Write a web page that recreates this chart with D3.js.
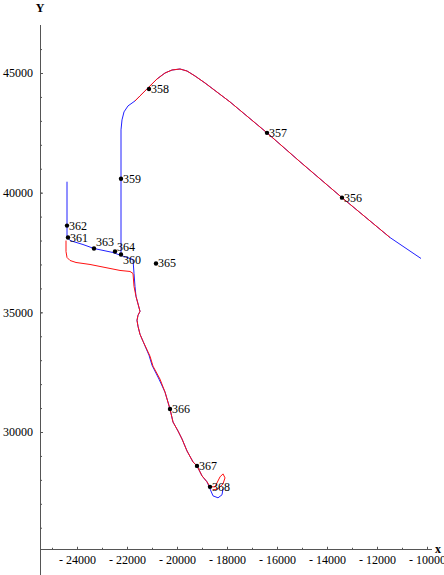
<!DOCTYPE html>
<html>
<head>
<meta charset="utf-8">
<script src="https://cdn.jsdelivr.net/npm/d3@7"></script>
<style>
  body { margin: 0; background: #fff; }
  svg { display: block; }
  text { font-family: "Liberation Serif", "DejaVu Serif", serif; fill: #000; }
</style>
</head>
<body>
<svg id="chart" width="444" height="575"></svg>
<script>
// red track, two pieces (x, y)
const redA = [
  [-11480, 38125], [-13400, 39792], [-15080, 41292], [-16400, 42500],
  [-17880, 43792], [-18880, 44583], [-19280, 44875], [-19600, 45083],
  [-19880, 45167], [-20200, 45125], [-20480, 45000], [-20800, 44750],
  [-21120, 44417], [-21480, 44042], [-21680, 43833]
]
const redB = [
  [-24440, 38000], [-24440, 37542], [-24400, 37292], [-24280, 37167],
  [-24040, 37083], [-23480, 37000], [-22880, 36875], [-22280, 36750],
  [-21880, 36708], [-21760, 36625], [-21720, 36083], [-21640, 35667],
  [-21480, 35042], [-21560, 34875], [-21600, 34667], [-21560, 34417],
  [-21480, 34083], [-21360, 33792], [-21080, 33167], [-20960, 32750],
  [-20680, 32208], [-20480, 31667], [-20280, 30958], [-20160, 30417],
  [-19960, 30042], [-19800, 29708], [-19600, 29208], [-19360, 28750],
  [-19200, 28583], [-19000, 28167], [-18800, 27917], [-18680, 27708],
  [-18480, 27708], [-18280, 28125], [-18160, 28250], [-18080, 28083],
  [-18160, 27833], [-18360, 27625], [-18560, 27583]
]

// blue track, two pieces
const blueA = [
  [-10240, 37250], [-11480, 38125], [-13400, 39792], [-15080, 41292],
  [-16400, 42500], [-17880, 43792], [-18880, 44583], [-19280, 44875],
  [-19600, 45083], [-19880, 45167], [-20200, 45125], [-20480, 45000],
  [-20800, 44750], [-21120, 44417], [-21480, 44042], [-21680, 43833],
  [-21960, 43625], [-22120, 43375], [-22200, 43042], [-22240, 42625],
  [-22240, 37417]
]
const blueB = [
  [-24400, 40458], [-24400, 38167], [-24280, 38000], [-23760, 37833],
  [-23320, 37667], [-22560, 37500], [-22240, 37375], [-21760, 37208],
  [-21720, 36625], [-21680, 36083], [-21640, 35667], [-21480, 35042],
  [-21560, 34875], [-21600, 34667], [-21560, 34417], [-21480, 34083],
  [-21360, 33792], [-21120, 33208], [-21000, 32792], [-20720, 32208],
  [-20480, 31667], [-20280, 30958], [-20160, 30417], [-19960, 30042],
  [-19800, 29708], [-19600, 29208], [-19360, 28750], [-19200, 28583],
  [-19000, 28167], [-18800, 27917], [-18680, 27625], [-18560, 27333],
  [-18360, 27250], [-18200, 27375], [-18160, 27625]
]

// labelled points
const pointIds = [356, 357, 358, 359, 360, 361, 362, 363, 364, 365, 366, 367, 368]
const pointX = [-13400, -16400, -21120, -22240, -22240, -24360, -24400,
                -23320, -22480, -20840, -20280, -19200, -18680]
const pointY = [39792, 42500, 44333, 40583, 37417, 38125, 38625,
                37667, 37542, 37042, 30958, 28583, 27708]

const xMajor = [-24000, -22000, -20000, -18000, -16000, -14000, -12000, -10000]
const yMajor = [30000, 35000, 40000, 45000]

const svg = d3.select('#chart')

const x = d3.scaleLinear().domain([-24000, -10000]).range([77, 427])
const y = d3.scaleLinear().domain([30000, 45000]).range([432, 73])

const axisX0 = -25480   // where the y axis sits
const axisY0 = 25080    // where the x axis sits

const line = d3.line()
    .x(d => x(d[0]))
    .y(d => y(d[1]))

// axes
const yAx = svg.append('g').attr('transform', `translate(${x(axisX0)},0)`)
yAx.call(d3.axisLeft(y).tickValues(d3.range(26000, 46001, 1000))
        .tickSize(-2).tickSizeOuter(0).tickFormat(''))
yAx.call(g => g.select('.domain').remove())
const yMaj = svg.append('g').attr('transform', `translate(${x(axisX0)},0)`)
yMaj.call(d3.axisLeft(y).tickValues(yMajor).tickSize(-3).tickSizeOuter(0)
        .tickPadding(7).tickFormat(d3.format('d')))
yMaj.call(g => g.select('.domain').remove())
yMaj.selectAll('text').style('font-size', '12px')

const xAx = svg.append('g').attr('transform', `translate(0,${y(axisY0)})`)
xAx.call(d3.axisBottom(x).tickValues(d3.range(-25000, -9999, 1000))
        .tickSize(-2).tickSizeOuter(0).tickFormat(''))
xAx.call(g => g.select('.domain').remove())
const xMaj = svg.append('g').attr('transform', `translate(0,${y(axisY0)})`)
xMaj.call(d3.axisBottom(x).tickValues(xMajor).tickSize(-3).tickSizeOuter(0)
        .tickPadding(6).tickFormat(d => '- ' + Math.abs(d)))
xMaj.call(g => g.select('.domain').remove())
xMaj.selectAll('text').style('font-size', '12px')

svg.selectAll('.tick line').attr('stroke', '#555')

svg.append('line')
    .attr('x1', x(axisX0)).attr('x2', x(axisX0))
    .attr('y1', 25).attr('y2', 575)
    .attr('stroke', '#555').attr('shape-rendering', 'crispEdges')
svg.append('line')
    .attr('x1', x(axisX0)).attr('x2', 432)
    .attr('y1', y(axisY0)).attr('y2', y(axisY0))
    .attr('stroke', '#555').attr('shape-rendering', 'crispEdges')

svg.append('text').attr('x', x(axisX0)).attr('y', 12)
    .attr('text-anchor', 'middle').style('font-size', '12px')
    .style('font-weight', 'bold').text('Y')
svg.append('text').attr('x', 438).attr('y', y(axisY0) + 3)
    .attr('text-anchor', 'middle').style('font-size', '12px')
    .style('font-weight', 'bold').text('x')

// tracks: blue underneath, red on top
;[blueA, blueB].forEach(pts => {
    svg.append('path').datum(pts).attr('d', line)
        .attr('fill', 'none').attr('stroke', '#2020ff').attr('stroke-width', 1)
})
;[redA, redB].forEach(pts => {
    svg.append('path').datum(pts).attr('d', line)
        .attr('fill', 'none').attr('stroke', '#ff1010').attr('stroke-width', 1)
})

// points with labels
const nudge = {360: 6, 363: -7, 364: -4}
pointIds.forEach((id, i) => {
    const px = x(pointX[i]), py = y(pointY[i])
    svg.append('circle').attr('cx', px).attr('cy', py).attr('r', 2.2).attr('fill', '#000')
    svg.append('text').attr('x', px + 2).attr('y', py + 4 + (nudge[id] || 0))
        .style('font-size', '12px').text(id)
})
</script>
</body>
</html>
